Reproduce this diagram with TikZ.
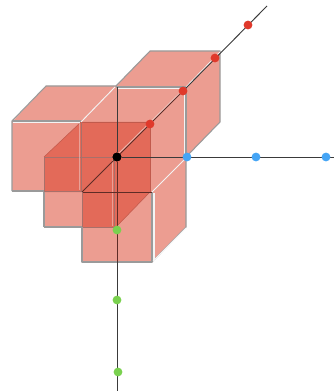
\documentclass[tikz,border=0pt]{standalone}
\definecolor{lightred}{HTML}{EC9D91}
\definecolor{darkred}{HTML}{E36A59}
\definecolor{edgegrey}{HTML}{9A9A9A}
\definecolor{inneredge}{HTML}{A8706A}
\definecolor{softwhite}{HTML}{F4F4F4}
\definecolor{axisdark}{HTML}{3A3A3A}
\definecolor{axisin}{HTML}{5E2C26}
\definecolor{zdot}{HTML}{E0392B}
\definecolor{xdot}{HTML}{45A5F5}
\definecolor{ydot}{HTML}{7AD14F}
\tikzset{
  edgeline/.style={draw=edgegrey,line width=0.8pt,line join=round},
  innerline/.style={draw=inneredge,line width=0.7pt},
  softedge/.style={draw=darkred!85!black,line width=0.4pt},
  hiline/.style={draw=softwhite,line width=0.7pt},
  axisline/.style={draw=axisdark,line width=0.7pt},
  axisinner/.style={draw=axisin,line width=0.7pt},
  pt/.style={circle,inner sep=0pt,minimum size=6.6pt,draw=none},
  zpt/.style={pt,fill=zdot},
  xpt/.style={pt,fill=xdot},
  ypt/.style={pt,fill=ydot},
  opt/.style={pt,fill=black,minimum size=6.6pt}
}
\begin{document}
\begin{tikzpicture}[x=0.75pt,y=-0.75pt]
\useasboundingbox (0,0) rectangle (334,391);
% silhouette
\fill[lightred] (12,122) -- (46,86) -- (116,86) -- (150,51) -- (220,51) -- (220,122) -- (186,157) -- (186,227) -- (152,262) -- (82,262) -- (82,227) -- (44,227) -- (44,191) -- (12,191) -- cycle;
% overlap
\fill[darkred] (81,122) -- (150,122) -- (150,192) -- (116,227) -- (82,227) -- (82,192) -- (44,192) -- (44,157) -- cycle;
% grey edges
\draw[edgeline] (12,191) -- (12,121) -- (46,86) -- (116,86) -- (150,51) -- (220,51) -- (220,122) -- (186,157);
\draw[edgeline] (12,191) -- (44,191);
\draw[edgeline] (12,121) -- (81,121);
\draw[innerline] (81,122) -- (81,191) -- (44,191);
\draw[edgeline] (44,227) -- (44,192);
\draw[innerline] (44,192) -- (44,157) -- (115,157);
\draw[edgeline] (44,227) -- (82,227);
\draw[innerline] (82,227) -- (114,227) -- (114,158);
\draw[innerline] (82,192) -- (82,227);
\draw[edgeline] (82,227) -- (82,262) -- (152,262) -- (152,192);
\draw[edgeline] (152,262) -- (186,227) -- (186,157);
\draw[edgeline] (116,87) -- (186,87) -- (186,157);
\draw[softedge] (81,122) -- (150,122) -- (150,192);
\draw[softedge] (44,157) -- (81,122);
\draw[softedge] (150,192) -- (116,227);
% white highlights
\draw[hiline] (13,122.4) -- (80,122.4);
\draw[hiline] (81,122) -- (115,87);
\draw[hiline] (117,88.2) -- (186,88.2);
\draw[hiline] (184.8,88) -- (184.8,156);
\draw[hiline] (186,87) -- (220,52);
\draw[hiline] (152,192) -- (186,158);
\draw[hiline,line width=1.1pt] (153.8,193) -- (153.8,261);
\draw[hiline,draw opacity=0.55] (116,156) -- (183,90);
\draw[hiline,draw opacity=0.4] (112.8,160) -- (112.8,226);
\draw[hiline,draw opacity=0.4] (79.8,123) -- (79.8,190);
\draw[hiline] (186,228) -- (153,261);
% axes
\coordinate (zend) at (267,6);
\coordinate (zstart) at (82,192);
\coordinate (xend) at (334,157);
\coordinate (yend) at (117,391);
\coordinate (ytop) at (117,87);
\coordinate (ybox) at (117,262);
\coordinate (zbox) at (186,88);
\draw[axisin,line width=0.5pt] (83,192) -- (152,192);
\node[opt] (o) at (117,157) {};
\draw[axisinner] (zstart) -- (o) -- (zbox);
\draw[axisline] (zbox) -- (zend);
\draw[axisline] (ytop) -- (o);
\draw[axisinner] (o) -- (ybox);
\draw[axisline] (ybox) -- (yend);
\draw[axisline] (o) -- (xend);
% points
\node[zpt] (z1) at (150,124) {};
\node[zpt] (z2) at (183,91) {};
\node[zpt] (z3) at (215,58) {};
\node[zpt] (z4) at (248,25) {};
\node[xpt] (x1) at (187,157) {};
\node[xpt] (x2) at (256,157) {};
\node[xpt] (x3) at (326,157) {};
\node[ypt] (y1) at (117,230) {};
\node[ypt] (y2) at (117,300) {};
\node[ypt] (y3) at (118,372) {};
\node[opt] at (o) {};
\end{tikzpicture}
\end{document}
